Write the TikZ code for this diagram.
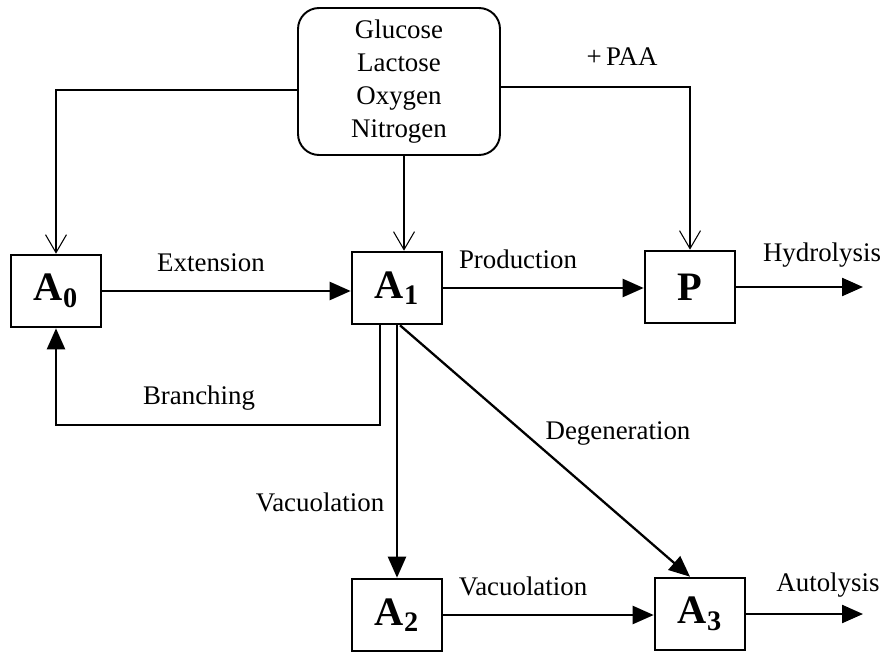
\documentclass[tikz,border=0pt]{standalone}
\usepackage{fontspec}
\setmainfont{Liberation Serif}
\usepackage{tikz}
\usetikzlibrary{arrows.meta}
\usetikzlibrary{positioning}
\tikzset{
    state box/.style={
        draw,
        line width=1.5pt,
        minimum width=1.8cm,
        minimum height=1.44cm,
        font=\fontsize{23}{26}\selectfont\bfseries
    },
    feed box/.style={
        draw,
        rounded corners=0.42cm,
        line width=1.1pt,
        minimum width=4.04cm,
        minimum height=2.94cm,
        align=center,
        font=\fontsize{15.3}{18.7}\selectfont
    },
    label text/.style={
        inner sep=0pt,
        text height=1.5ex,
        text depth=0.25ex,
        font=\fontsize{15.3}{18}\selectfont
    },
    flow/.style={
        line width=1.3pt,
        -{Triangle[length=0.42cm,width=0.36cm]}
    },
    feed line/.style={
        line width=0.6pt,
        -{Straight Barb[length=0.36cm,width=0.42cm]}
    }
}

\begin{document}
\begin{tikzpicture}[x=0.02cm,y=-0.02cm]
    \useasboundingbox (0,0) rectangle (888,655);

    \node[feed box] (feed) at (399,81.5) {Glucose\\Lactose\\Oxygen\\Nitrogen};
    \node[state box] (A0) at (56,291) {A\textsubscript{0}};
    \node[state box] (A1) at (397,288) {A\textsubscript{1}};
    \node[state box] (P) at (690,287) {P};
    \node[state box] (A2) at (397,615) {A\textsubscript{2}};
    \node[state box] (A3) at (700,614) {A\textsubscript{3}};
    \coordinate (hydro) at (863,287);
    \coordinate (auto) at (863,614);

    % substrates
    \draw[feed line] (feed.west |- 0,90) -| (A0.north);
    \draw[feed line] (feed.south -| 404,0) -- (A1.north -| 404,0);
    \draw[feed line] (feed.east |- 0,87) -| (P.north);
    \node[label text] (paa) at (622,60) {+\,PAA};

    % transitions
    \draw[flow] (A0.east) -- (A0.east -| A1.west);
    \draw[flow] (A1.east) -- (A1.east -| P.west);
    \draw[flow] (P.east) -- (hydro);
    \draw[flow] (A1.south -| 380,0) -- ++(0,100) -| (A0.south);
    \draw[flow] (A1.south) -- (A2.north);
    \draw[flow] (A1.south -| 400,0) -- (A3.north -| 690,0);
    \draw[flow] (A2.east) -- (A2.east -| A3.west);
    \draw[flow] (A3.east) -- (auto);

    \node[label text] (ext) at (211,266) {Extension};
    \node[label text] (prod) at (518,263) {Production};
    \node[label text] (hyd) at (822,256) {Hydrolysis};
    \node[label text] (branch) at (199,399) {Branching};
    \node[label text] (vac1) at (320,506) {Vacuolation};
    \node[label text] (degen) at (618,434) {Degeneration};
    \node[label text] (vac2) at (523,590) {Vacuolation};
    \node[label text] (autol) at (828,586) {Autolysis};
\end{tikzpicture}
\end{document}
